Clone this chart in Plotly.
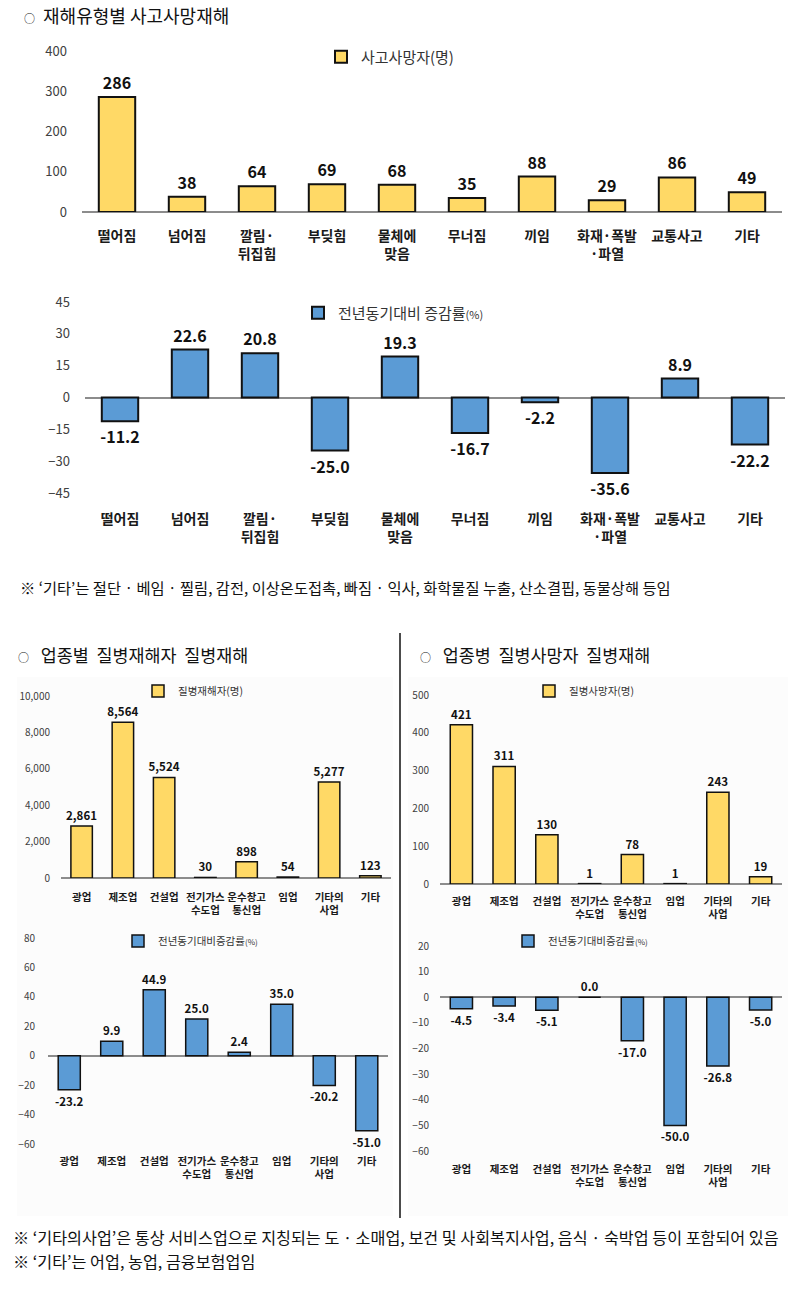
import plotly.graph_objects as go

W, H = 800, 1293
KR = "Noto Sans CJK KR"
YELLOW = "#FFD966"
BLUE = "#5B9BD5"

# 재해유형별 사고사망재해
accident_types = ["떨어짐", "넘어짐", "깔림·<br>뒤집힘", "부딪힘", "물체에<br>맞음",
                  "무너짐", "끼임", "화재·폭발<br>·파열", "교통사고", "기타"]
accident_deaths = [286, 38, 64, 69, 68, 35, 88, 29, 86, 49]
accident_change = [-11.2, 22.6, 20.8, -25.0, 19.3, -16.7, -2.2, -35.6, 8.9, -22.2]

# 업종별 질병재해
industries = ["광업", "제조업", "건설업", "전기가스<br>수도업", "운수창고<br>통신업",
              "임업", "기타의<br>사업", "기타"]
disease_cases = [2861, 8564, 5524, 30, 898, 54, 5277, 123]
disease_cases_change = [-23.2, 9.9, 44.9, 25.0, 2.4, 35.0, -20.2, -51.0]
disease_deaths = [421, 311, 130, 1, 78, 1, 243, 19]
disease_deaths_change = [-4.5, -3.4, -5.1, 0.0, -17.0, -50.0, -26.8, -5.0]


def px(x):
    return x / W


def py(y):
    return 1 - y / H


# one entry per panel: data, series name, look and pixel box
panels = [
    dict(x=accident_types, y=accident_deaths, name="사고사망자(명)", color=YELLOW,
         fmt="%{y}", box=(82, 782, 51, 212), yrange=[0, 400], dtick=100, tickformat="",
         big=True, legend_at=(321, 57), ystand=14, xstand=14),
    dict(x=accident_types, y=accident_change,
         name="전년동기대비 증감률<span style='font-size:11px'>(%)</span>", color=BLUE,
         fmt="%{y:.1f}", box=(85, 785, 302, 493), yrange=[-45, 45], dtick=15, tickformat="",
         big=True, legend_at=(298, 313), ystand=14, xstand=16),
    dict(x=industries, y=disease_cases, name="질병재해자(명)", color=YELLOW,
         fmt="%{y:,}", box=(61, 391, 696, 878), yrange=[0, 10000], dtick=2000, tickformat=",",
         big=False, legend_at=(138, 691), ystand=10, xstand=11),
    dict(x=industries, y=disease_deaths, name="질병사망자(명)", color=YELLOW,
         fmt="%{y}", box=(440, 782, 695, 884), yrange=[0, 500], dtick=100, tickformat="",
         big=False, legend_at=(529, 691), ystand=10, xstand=9),
    dict(x=industries, y=disease_cases_change,
         name="전년동기대비증감률<span style='font-size:8px'>(%)</span>", color=BLUE,
         fmt="%{y:.1f}", box=(48, 388, 938, 1144), yrange=[-60, 80], dtick=20, tickformat="",
         big=False, legend_at=(118, 941), ystand=12, xstand=9),
    dict(x=industries, y=disease_deaths_change,
         name="전년동기대비증감률<span style='font-size:8px'>(%)</span>", color=BLUE,
         fmt="%{y:.1f}", box=(440, 782, 946, 1151), yrange=[-60, 20], dtick=10, tickformat="",
         big=False, legend_at=(508, 941), ystand=10, xstand=10),
]

fig = go.Figure()
layout = {}

for i, p in enumerate(panels, start=1):
    sfx = "" if i == 1 else str(i)
    x0, x1, ytop, ybot = p["box"]
    big = p["big"]
    fig.add_trace(go.Bar(
        x=p["x"], y=p["y"], name=p["name"],
        marker=dict(color=p["color"], line=dict(color="#111111", width=2 if big else 1.5)),
        text=p["y"], texttemplate=p["fmt"], textposition="outside",
        constraintext="none", cliponaxis=False,
        textfont=dict(family=KR, size=16 if big else 11.5, color="#111111", weight="bold"),
        xaxis="x" + sfx, yaxis="y" + sfx, legend="legend" + sfx,
        showlegend=True, hoverinfo="skip",
    ))
    layout["xaxis" + sfx] = dict(
        domain=[px(x0), px(x1)], anchor="y" + sfx, showline=False, showgrid=False,
        ticks="", ticklabelstandoff=p["xstand"], fixedrange=True, automargin=False,
        tickfont=dict(family=KR, size=14 if big else 10.5, color="#1a1a1a", weight="bold"),
    )
    layout["yaxis" + sfx] = dict(
        domain=[py(ybot), py(ytop)], anchor="x" + sfx, range=p["yrange"], dtick=p["dtick"],
        tickformat=p["tickformat"], showgrid=False, showline=False, ticks="",
        zeroline=True, zerolinecolor="#8c8c8c", zerolinewidth=1.5, automargin=False,
        ticklabelstandoff=p["ystand"], fixedrange=True,
        tickfont=dict(family=KR, size=13 if big else 10, color="#404040"),
    )
    lx, ly = p["legend_at"]
    layout["legend" + sfx] = dict(
        x=px(lx), y=py(ly), xanchor="left", yanchor="middle", xref="paper", yref="paper",
        bgcolor="rgba(0,0,0,0)", itemwidth=30, itemclick=False, itemdoubleclick=False,
        font=dict(family=KR, size=15 if big else 10.5, color="#333333"),
    )

fig.update_layout(**layout)

CIRCLE = "<span style='font-size:11px'>○</span>"
notes = [
    (CIRCLE + "  재해유형별 사고사망재해", 22, 15, 18),
    ("※ ‘기타’는 절단 · 베임 · 찔림, 감전, 이상온도접촉, 빠짐 · 익사, 화학물질 누출, 산소결핍, 동물상해 등임", 18, 587, 15.3),
    (CIRCLE + "   업종별  질병재해자  질병재해", 16, 655, 17.4),
    (CIRCLE + "   업종병  질병사망자  질병재해", 418, 655, 17.4),
    ("※ ‘기타의사업’은 통상 서비스업으로 지칭되는 도 · 소매업, 보건 및 사회복지사업, 음식 · 숙박업 등이 포함되어 있음",
     11, 1237, 16.2),
    ("※ ‘기타’는 어업, 농업, 금융보험업임", 11, 1261, 16.2),
]
for text, x, y, size in notes:
    fig.add_annotation(text=text, x=px(x), y=py(y), xref="paper", yref="paper",
                       xanchor="left", yanchor="middle", align="left", showarrow=False,
                       font=dict(family=KR, size=size, color="#111111"))

# very faint panels behind the two lower charts
for bx0, bx1 in [(17, 393), (408, 788)]:
    fig.add_shape(type="rect", xref="paper", yref="paper", layer="below",
                  x0=px(bx0), x1=px(bx1), y0=py(1216), y1=py(677),
                  fillcolor="#fcfcfc", line=dict(width=0))

# divider between the two lower charts
fig.add_shape(type="line", xref="paper", yref="paper",
              x0=px(400), x1=px(400), y0=py(633), y1=py(1218),
              line=dict(color="#111111", width=1.5))

fig.update_layout(
    width=W, height=H, margin=dict(l=0, r=0, t=0, b=0, pad=0, autoexpand=False),
    paper_bgcolor="white", plot_bgcolor="rgba(0,0,0,0)",
    bargap=0.48, font=dict(family=KR),
)

fig.write_html("out.html", config={"displayModeBar": False},
               post_script="document.body.style.margin='0';document.body.style.overflow='hidden';")
